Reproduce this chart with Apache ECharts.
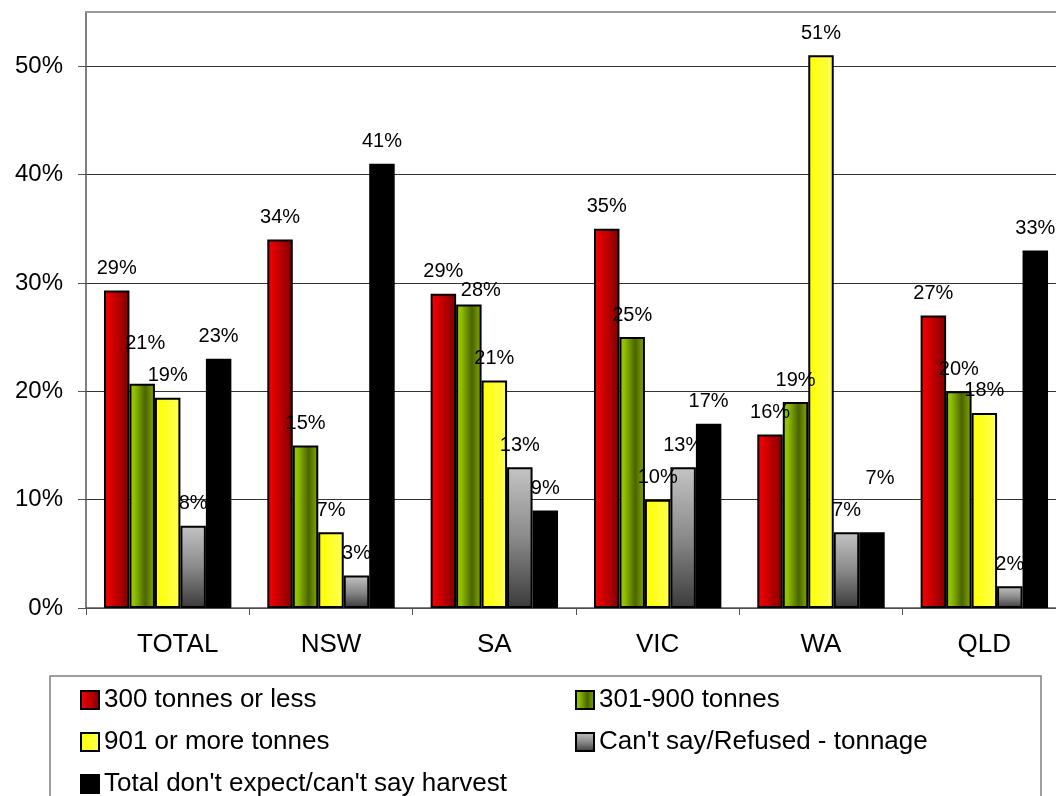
<!DOCTYPE html>
<html>
<head>
<meta charset="utf-8">
<script src="https://cdn.jsdelivr.net/npm/echarts@6/dist/echarts.min.js"></script>
<style>
  html, body { margin: 0; padding: 0; background: #ffffff; overflow: hidden; }
  /* the plot runs a little past the right edge of the page */
  #chart { width: 1072px; height: 796px; }
</style>
</head>
<body>
<div id="chart"></div>
<script>
// Regions
const categories = ['TOTAL', 'NSW', 'SA', 'VIC', 'WA', 'QLD'];

// Series names
const seriesNames = [
  '300 tonnes or less',
  '301-900 tonnes',
  '901 or more tonnes',
  "Can't say/Refused - tonnage",
  "Total don't expect/can't say harvest"
];

// Share of respondents (%) per region
const upTo300 = [29.3, 34, 29, 35, 16, 27];
const from301To900 = [20.7, 15, 28, 25, 19, 20];
const over900 = [19.4, 7, 21, 10, 51, 18];
const cantSayTonnage = [7.6, 3, 13, 13, 7, 2];
const noHarvest = [23, 41, 9, 17, 7, 33];

// Value axis ticks
const yTicks = [0, 10, 20, 30, 40, 50];

const seriesValues = [upTo300, from301To900, over900, cantSayTonnage, noHarvest];

// Nudges for a few data labels that sit away from their bar tops
const labelNudge = {
  '1|0': [3, -18],
  '1|2': [12, 8],
  '4|4': [8, -32]
};

const G = echarts.graphic.LinearGradient;
const fills = [
  new G(0, 0, 1, 0, [
    { offset: 0, color: '#ff0000' },
    { offset: 1, color: '#7d0000' }
  ]),
  new G(0, 0, 1, 0, [
    { offset: 0, color: '#9acc00' },
    { offset: 0.2, color: '#8fbf00' },
    { offset: 0.62, color: '#4a6400' },
    { offset: 1, color: '#88ad00' }
  ]),
  new G(0, 0, 1, 0, [
    { offset: 0, color: '#ffff00' },
    { offset: 1, color: '#ffff55' }
  ]),
  new G(0, 0, 0, 1, [
    { offset: 0, color: '#c4c4c4' },
    { offset: 0.5, color: '#8a8a8a' },
    { offset: 1, color: '#3a3a3a' }
  ]),
  '#000000'
];

const FONT = "'Liberation Sans', Arial, sans-serif";

const series = seriesNames.map((name, si) => ({
  name: name,
  type: 'bar',
  barGap: '0%',
  barCategoryGap: '22%',
  itemStyle: { color: fills[si], borderColor: '#000', borderWidth: 2 },
  label: {
    show: true,
    position: 'top',
    distance: 12,
    color: '#000',
    fontFamily: FONT,
    fontSize: 20,
    formatter: p => Math.round(p.value) + '%'
  },
  data: seriesValues[si].map((v, ci) => {
    const nudge = labelNudge[si + '|' + ci];
    return nudge ? { value: v, label: { offset: nudge } } : v;
  })
}));

const chart = echarts.init(document.getElementById('chart'), null, { renderer: 'canvas' });

const legendCommon = {
  orient: 'vertical',
  top: 687,
  height: 200,
  padding: 0,
  itemGap: 16,
  itemWidth: 18,
  itemHeight: 18,
  icon: 'rect',
  selectedMode: false,
  textStyle: { color: '#000', fontFamily: FONT, fontSize: 26 }
};

chart.setOption({
  backgroundColor: '#ffffff',
  animation: false,
  grid: { left: 86, top: 12, bottom: 188, width: 980, containLabel: false },
  xAxis: [
    {
      type: 'category',
      data: categories,
      axisLine: { lineStyle: { color: '#555', width: 1.5 } },
      axisTick: { show: true, interval: 0, length: 7, lineStyle: { color: '#555' } },
      axisLabel: {
        interval: 0,
        color: '#000',
        fontFamily: FONT,
        fontSize: 26,
        margin: 24,
        formatter: (v, i) => (i === 0 ? '{first|' + v + '}' : v),
        rich: { first: { fontFamily: FONT, fontSize: 26, color: '#000', padding: [0, 0, 0, 20] } }
      }
    },
    {
      type: 'category',
      position: 'top',
      data: categories,
      axisLine: { lineStyle: { color: '#999', width: 2 } },
      axisTick: { show: false },
      axisLabel: { show: false }
    }
  ],
  yAxis: {
    type: 'value',
    min: 0,
    max: 55,
    interval: 10,
    axisLine: { show: true, lineStyle: { color: '#555', width: 1.5 } },
    axisTick: { show: true, length: 8, customValues: yTicks, lineStyle: { color: '#555' } },
    axisLabel: {
      customValues: yTicks,
      color: '#000',
      fontFamily: FONT,
      fontSize: 24,
      margin: 23,
      formatter: v => v + '%'
    },
    splitLine: { show: true, lineStyle: { color: '#333', width: 1 } }
  },
  legend: [
    Object.assign({ data: [seriesNames[0], seriesNames[2], seriesNames[4]], left: 80 }, legendCommon),
    Object.assign({ data: [seriesNames[1], seriesNames[3]], left: 575 }, legendCommon)
  ],
  graphic: [
    {
      type: 'rect',
      shape: { x: 50, y: 676, width: 991, height: 140 },
      style: { fill: 'none', stroke: '#808080', lineWidth: 1.5 },
      silent: true,
      z: -1
    }
  ],
  series: series
});
</script>
</body>
</html>
